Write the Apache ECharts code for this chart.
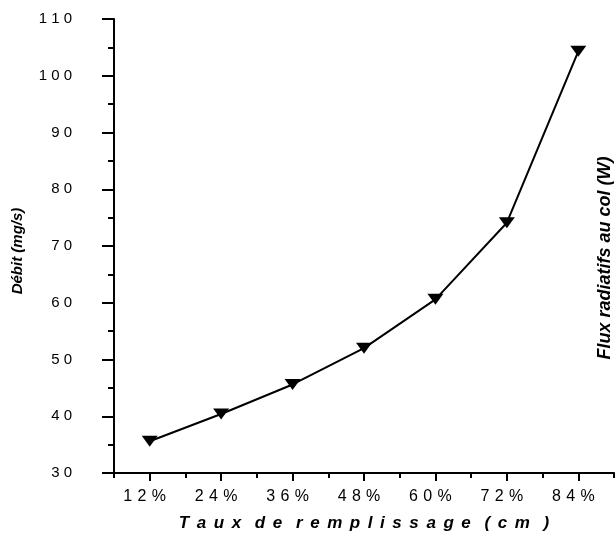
<!DOCTYPE html>
<html>
<head>
<meta charset="utf-8">
<script src="https://cdn.jsdelivr.net/npm/echarts@6/dist/echarts.min.js"></script>
<style>html,body{margin:0;padding:0;background:#fff}#c{width:615px;height:540px}</style>
</head>
<body>
<div id="c"></div>
<script>
var categories = ['12%', '24%', '36%', '48%', '60%', '72%', '84%'];
var debit = [35.6, 40.4, 45.6, 52.0, 60.6, 74.1, 104.3];
var yTicks = [30, 40, 50, 60, 70, 80, 90, 100, 110];
var xTitle = 'Taux de remplissage (cm )';
var yTitle = 'Débit (mg/s)';
var y2Title = 'Flux radiatifs au col (W)';

function spaced(s, gap) { return String(s).split('').join(gap || ' '); }
function spacedTitle(s) {
  return s.split(' ').map(function (w) { return w.split('').join(' \u200A\u200A'); }).join('  \u200A\u200A\u200A');
}

var chart = echarts.init(document.getElementById('c'), null, { renderer: 'canvas' });
var font = '"Liberation Sans", Arial, sans-serif';
chart.setOption({
  animation: false,
  backgroundColor: '#fff',
  grid: { left: 114, top: 19, right: 1, bottom: 67, containLabel: false },
  xAxis: [{
    type: 'category',
    data: categories,
    boundaryGap: true,
    axisLine: { show: true, lineStyle: { color: '#000', width: 2 } },
    axisTick: { show: true, alignWithLabel: true, length: 8, lineStyle: { color: '#000', width: 2 } },
    axisLabel: { color: '#000', fontSize: 16, fontFamily: font, margin: 16, padding: [0, 10, 0, 0],
      formatter: function (v) { return spaced(v, '\u2004'); } },
    splitLine: { show: false }
  }, {
    type: 'category',
    data: categories,
    boundaryGap: true,
    position: 'bottom',
    axisLine: { show: false },
    axisTick: { show: true, length: 5, lineStyle: { color: '#000', width: 2 } },
    axisLabel: { show: false },
    splitLine: { show: false }
  }],
  yAxis: {
    type: 'value',
    min: yTicks[0],
    max: yTicks[yTicks.length - 1],
    interval: 10,
    axisLine: { show: true, lineStyle: { color: '#000', width: 2 } },
    axisTick: { show: true, length: 12, lineStyle: { color: '#000', width: 2 } },
    minorTick: { show: true, splitNumber: 2, length: 6, lineStyle: { color: '#000', width: 2 } },
    axisLabel: { color: '#000', fontSize: 15, fontFamily: font, margin: 42, align: 'right',
      formatter: function (v) { return spaced(v); } },
    splitLine: { show: false }
  },
  graphic: [
    { type: 'text', x: 18, y: 251, rotation: Math.PI / 2,
      style: { text: yTitle, font: 'italic bold 15px ' + font, fill: '#000', textAlign: 'center', textVerticalAlign: 'middle' } },
    { type: 'text', x: 605, y: 258, rotation: Math.PI / 2,
      style: { text: y2Title, font: 'italic bold 18px ' + font, fill: '#000', textAlign: 'center', textVerticalAlign: 'middle' } },
    { type: 'text', x: 364, y: 523,
      style: { text: spacedTitle(xTitle), font: 'italic bold 17px ' + font, fill: '#000', textAlign: 'center', textVerticalAlign: 'middle' } }
  ],
  series: [{
    type: 'line',
    xAxisIndex: 0,
    data: debit,
    symbol: 'triangle',
    symbolRotate: 180,
    symbolSize: [16, 11],
    showAllSymbol: true,
    itemStyle: { color: '#000' },
    lineStyle: { color: '#000', width: 2 }
  }]
});
</script>
</body>
</html>
